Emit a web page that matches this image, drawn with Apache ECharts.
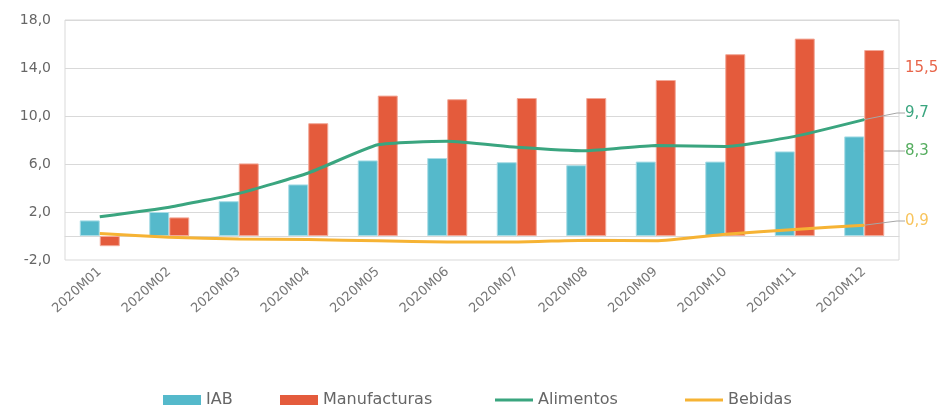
<!DOCTYPE html>
<html>
<head>
<meta charset="utf-8">
<script src="https://cdn.jsdelivr.net/npm/echarts@6/dist/echarts.min.js"></script>
<style>
  html, body { margin: 0; padding: 0; background: #fff; }
  #chart { width: 938px; height: 410px; }
</style>
</head>
<body>
<div id="chart"></div>
<script>
const months = ["2020M01", "2020M02", "2020M03", "2020M04", "2020M05", "2020M06",
  "2020M07", "2020M08", "2020M09", "2020M10", "2020M11", "2020M12"];
const iab = [1.3, 2.0, 2.9, 4.3, 6.3, 6.5, 6.15, 5.9, 6.2, 6.2, 7.05, 8.3];
const manufacturas = [-0.85, 1.55, 6.05, 9.4, 11.7, 11.4, 11.5, 11.5, 13.0, 15.15, 16.45, 15.5];
const alimentos = [1.6, 2.4, 3.55, 5.25, 7.6, 7.9, 7.4, 7.1, 7.55, 7.45, 8.3, 9.7];
const bebidas = [0.2, -0.1, -0.25, -0.3, -0.4, -0.5, -0.5, -0.35, -0.4, 0.15, 0.55, 0.9];
const yLabels = [-2, 2, 6, 10, 14, 18];

const FONT = "DejaVu Sans";
const fmt = v => v.toFixed(1).replace(".", ",");

// only the last point gets a label, pushed out to the right side
function withEndLabel(values, color, guide) {
  return values.map((v, i) => {
    if (i !== values.length - 1) return v;
    return {
      value: v,
      symbol: "circle",
      symbolSize: 1,
      label: {
        show: true,
        formatter: p => fmt(p.value),
        color: color,
        fontSize: 15,
        fontFamily: FONT,
        padding: [0, 0, 0, 20]
      },
      labelLine: {
        show: guide,
        length2: 8,
        lineStyle: { color: "#a6a6a6", width: 1 }
      }
    };
  });
}

function endLayout(y) {
  return { x: 885, y: y, align: "left", verticalAlign: "middle" };
}

// one legend per item so the spacing can follow the original
function legendAt(name, left, icon) {
  return {
    left: left,
    top: 387,
    itemWidth: 38,
    itemHeight: 10,
    itemGap: 4,
    itemStyle: { borderWidth: 0 },
    textStyle: { color: "#666", fontSize: 16, fontFamily: FONT },
    data: [{ name: name, icon: icon }]
  };
}

const lineIcon = "path://M0,0H38V3H0Z";

const chart = echarts.init(document.getElementById("chart"));
chart.setOption({
  animation: false,
  textStyle: { fontFamily: FONT },
  grid: [
    {
      left: 65, right: 39, top: 20, bottom: 150,
      show: true, borderColor: "#d9d9d9", borderWidth: 1
    },
    // helper grid: only draws the gridlines at 2, 6, 10, 14, 18 (18 -> 2 span)
    { left: 65, right: 39, top: 20, height: 192 }
  ],
  legend: [
    legendAt("IAB", 158, "rect"),
    legendAt("Manufacturas", 275, "rect"),
    legendAt("Alimentos", 490, lineIcon),
    legendAt("Bebidas", 680, lineIcon)
  ],
  xAxis: [
    {
      type: "category",
      data: months,
      axisLine: { onZero: true, lineStyle: { color: "#d9d9d9" } },
      axisTick: { show: false },
      axisLabel: { rotate: 42, color: "#777", fontSize: 13, margin: 10 }
    },
    { gridIndex: 1, type: "value", show: false }
  ],
  yAxis: [
    {
      type: "value",
      min: -2,
      max: 18,
      interval: 2,
      axisLine: { show: false },
      axisTick: { show: false },
      axisLabel: {
        customValues: yLabels,
        formatter: fmt,
        color: "#666",
        fontSize: 14,
        margin: 14
      },
      splitLine: { show: false }
    },
    {
      gridIndex: 1,
      type: "value",
      min: 0,
      max: 16,
      interval: 4,
      axisLine: { show: false },
      axisTick: { show: false },
      axisLabel: { show: false },
      splitLine: { show: true, lineStyle: { color: "#d9d9d9" } }
    }
  ],
  series: [
    {
      name: "IAB",
      type: "bar",
      barWidth: 20,
      barGap: 0,
      itemStyle: { color: "#55b9cb", borderColor: "#a9dde6", borderWidth: 1 },
      data: withEndLabel(iab, "#55ad5f", true),
      labelLayout: endLayout(151)
    },
    {
      name: "Manufacturas",
      type: "bar",
      barWidth: 20,
      barGap: 0,
      itemStyle: { color: "#e45b3c", borderColor: "#f2a898", borderWidth: 1 },
      data: withEndLabel(manufacturas, "#e8654a", false),
      labelLayout: endLayout(68)
    },
    {
      name: "Alimentos",
      type: "line",
      symbol: "none",
      smooth: 0.15,
      lineStyle: { color: "#3aa57f", width: 3 },
      itemStyle: { color: "#3aa57f" },
      data: withEndLabel(alimentos, "#3aa57f", true),
      labelLayout: endLayout(113)
    },
    {
      name: "Bebidas",
      type: "line",
      symbol: "none",
      smooth: 0.15,
      lineStyle: { color: "#f6b334", width: 3 },
      itemStyle: { color: "#f6b334" },
      data: withEndLabel(bebidas, "#f8c45c", true),
      labelLayout: endLayout(221)
    }
  ]
});
</script>
</body>
</html>
